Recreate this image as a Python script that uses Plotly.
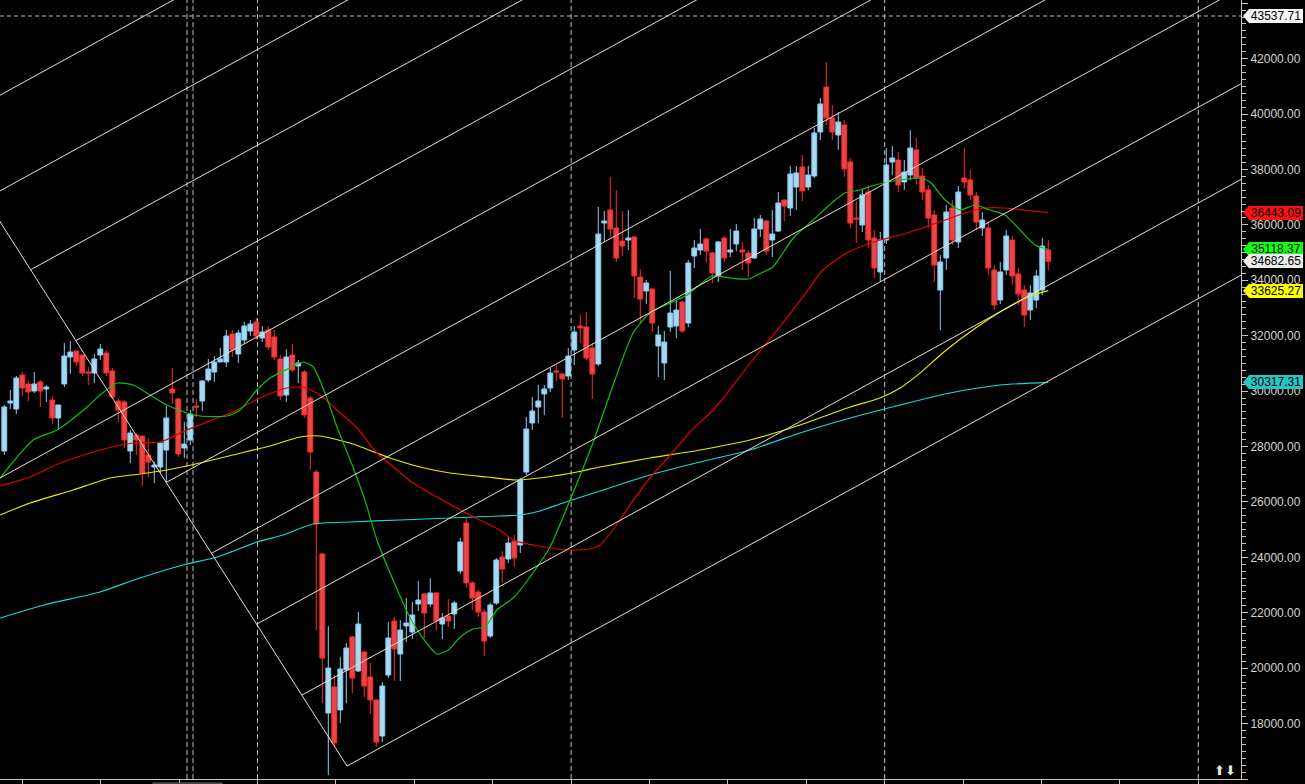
import plotly.graph_objects as go

# ---------------- data (weekly candles) ----------------
bars = list(range(175))
opens = [27838, 29571, 29354, 30581, 30257, 30004, 30329, 30076, 29679, 29029,
         30257, 31231, 31447, 31303, 30690, 30654, 31303, 31375, 30726, 29643,
         29607, 27838, 28416, 28380, 27694, 27261, 27261, 27874, 30076, 29715,
         27946, 28235, 29462, 29643, 30401, 30690, 31050, 31050, 32061, 31339,
         31844, 32169, 32494, 31917, 32205, 31954, 31159, 29859, 31303, 30906,
         30690, 29751, 27080, 24121, 18383, 19322, 18492, 19935, 21126, 19899,
         20584, 19682, 18852, 17553, 19754, 21703, 20512, 21523, 21306, 22317,
         22678, 22317, 22714, 21595, 21884, 21956, 23508, 25240, 23075, 22750,
         22028, 21162, 22353, 24013, 23941, 24590, 24446, 27080, 28849, 29426,
         29896, 30112, 30726, 30617, 30545, 31484, 32350, 32314, 31556, 30978,
         36067, 36536, 35887, 35417, 35453, 35562, 34118, 33613, 33685, 31628,
         31014, 32314, 32350, 33216, 32458, 34876, 35092, 35490, 34984, 34154,
         35526, 35020, 35309, 35092, 34984, 34804, 35851, 36139, 35453, 35778,
         36897, 36608, 37366, 38088, 37366, 37763, 39351, 40975, 39856, 39243,
         39604, 38269, 36248, 35995, 37186, 35526, 34299, 35453, 38269, 38341,
         37547, 37799, 38702, 37763, 37258, 36356, 33649, 34804, 36608, 35381,
         37691, 37619, 37041, 35887, 35887, 34371, 33288, 34371, 35453, 34226,
         33649, 32927, 33288, 33649, 35092]
highs = [29499, 30040, 30545, 30690, 30401, 30690, 30401, 30220, 29823, 29499,
         31736, 31808, 31447, 31303, 30870, 31339, 31700, 31484, 30834, 29751,
         29679, 28596, 28488, 28380, 28307, 27441, 28127, 29462, 30834, 29751,
         28885, 29318, 29715, 30401, 31159, 31267, 31556, 32205, 32205, 32205,
         32494, 32566, 32638, 32350, 32350, 32205, 31303, 31519, 31700, 31123,
         30762, 29823, 27153, 24157, 21523, 19754, 20404, 20909, 21162, 22028,
         20620, 20187, 18889, 19502, 21667, 21848, 21739, 22533, 22389, 23147,
         22714, 23255, 22750, 21992, 22497, 22425, 24699, 25421, 23147, 22822,
         22137, 22353, 23977, 24230, 24735, 24807, 26864, 29065, 29787, 30220,
         30220, 30834, 30942, 30654, 31556, 32350, 32747, 32855, 31736, 36644,
         36500, 37727, 37258, 36500, 36536, 35598, 34407, 34010, 33721, 32350,
         32169, 34335, 33288, 33252, 34732, 35453, 35851, 35562, 35020, 35417,
         35598, 35851, 36031, 35381, 35092, 36248, 36356, 36175, 36536, 37186,
         36933, 38124, 38124, 38521, 38124, 39495, 40578, 41877, 40326, 40073,
         39784, 38413, 36861, 37258, 37438, 35815, 35742, 38774, 38846, 38630,
         38341, 39423, 39135, 38052, 37438, 36536, 34912, 36717, 36897, 37402,
         38774, 37980, 37186, 36464, 36103, 34551, 34659, 35815, 35598, 34443,
         33829, 33829, 34371, 35526, 35453]
lows = [27694, 29354, 29174, 29823, 29643, 29932, 29426, 29607, 28813, 28596,
        30148, 30617, 30906, 30545, 30220, 30293, 31123, 30545, 29715, 28885,
        27946, 27405, 27694, 26575, 26900, 26683, 27044, 26683, 29535, 27622,
        27586, 28055, 29065, 29282, 30329, 30329, 31050, 30870, 31231, 31014,
        31700, 31989, 31844, 31772, 31484, 31123, 29679, 29607, 30690, 30293,
        29029, 27153, 21378, 18744, 16145, 17193, 18023, 18744, 19105, 19863,
        18961, 18347, 17157, 17337, 19646, 19538, 19538, 20945, 21054, 22064,
        21090, 22209, 21378, 21054, 21487, 21415, 23400, 22895, 22100, 21848,
        20440, 21090, 22281, 23075, 23797, 23652, 24157, 26972, 28596, 28849,
        29138, 29968, 30365, 29029, 30401, 30942, 31736, 31123, 29715, 30906,
        35381, 35562, 34659, 34876, 35092, 33360, 32458, 33144, 32133, 30509,
        30401, 32133, 31917, 32097, 32314, 34443, 34912, 34659, 33902, 33938,
        34659, 34840, 35056, 34371, 34118, 34768, 35562, 34912, 34840, 35742,
        36139, 36320, 36536, 36861, 37258, 37691, 39062, 39604, 39062, 38702,
        37727, 35887, 35345, 35742, 35165, 34082, 33938, 35309, 37799, 37186,
        37258, 37619, 37438, 36897, 35887, 33938, 32205, 34371, 35273, 35165,
        37330, 36897, 35815, 35598, 34190, 32927, 33144, 34190, 33829, 33108,
        32314, 32566, 33000, 33469, 34371]
closes = [29426, 29643, 30473, 30112, 29968, 30257, 30004, 30148, 29029, 29499,
          31267, 31411, 31050, 30654, 30654, 31159, 31519, 30654, 29787, 29318,
          28235, 28488, 28235, 27044, 27441, 27333, 28127, 29029, 29932, 27730,
          28091, 29174, 29426, 30365, 30798, 31050, 31159, 31989, 31484, 32097,
          32350, 32422, 31989, 32133, 31589, 31231, 29823, 31231, 30762, 31014,
          29138, 27802, 25204, 20368, 20007, 17301, 19971, 20729, 19646, 21595,
          19358, 18852, 17337, 19358, 21090, 20693, 21378, 21631, 21920, 22461,
          21992, 22714, 21703, 21812, 21703, 22353, 24554, 23075, 22533, 22028,
          20981, 22281, 23905, 23580, 24518, 23977, 26792, 28632, 29282, 29643,
          30076, 30654, 30690, 30437, 31267, 32133, 32277, 31195, 30617, 35670,
          36139, 35851, 34804, 35237, 35526, 34154, 33324, 33902, 32458, 32025,
          31772, 32819, 32927, 32169, 34623, 35165, 35309, 35056, 34263, 35381,
          34804, 35092, 35778, 35020, 34623, 35851, 36212, 35056, 35670, 36789,
          36680, 37836, 37872, 37222, 37799, 39315, 40362, 39856, 39351, 39712,
          38016, 36067, 36212, 37078, 35453, 34443, 35453, 38160, 38413, 37438,
          37908, 38774, 37691, 37186, 36248, 34551, 34659, 36464, 35453, 37186,
          37547, 37078, 36103, 36175, 34443, 33108, 34299, 35598, 34154, 33505,
          32747, 33541, 34154, 35237, 34682.65]

# moving averages (bar position, value)
green_x = [-0.7, 4.8, 8.8, 13.8, 15.95, 18.8, 21.5, 24.3, 27.1, 30.45, 32.6, 37.1, 39.3,
           42.1, 44.3, 47.6, 49.8, 51.5, 53.45, 55.45, 58.1, 60.1, 62.1, 64.8, 68.1, 72.1,
           74.0, 76.0, 78.1, 80.1, 82.1, 84.8, 88.1, 91.0, 94.3, 98.1, 100.6, 104.8, 107.6,
           111.0, 113.8, 117.95, 120.95, 124.0, 126.5, 128.1, 131.5, 134.8, 138.1, 140.1,
           142.6, 145.1, 149.3, 152.6, 154.3, 156.8, 159.3, 161.8, 164.3, 166.8, 169.3,
           171.8, 174]
green_y = [26864, 28235, 28596, 29426, 29859, 30293, 30220, 29859, 29499, 29210, 29101,
           29101, 29318, 30040, 30473, 30834, 31050, 30870, 29932, 28704, 27261, 26070,
           24626, 23183, 21631, 20512, 20657, 21126, 21415, 21487, 22100, 22533, 23436,
           24392, 26070, 28127, 29679, 32097, 32819, 33180, 33469, 34154, 34082, 34046,
           34299, 34479, 35526, 36175, 36825, 37150, 37258, 37438, 37619, 37691, 37547,
           36897, 36536, 36717, 36536, 36356, 35815, 35273, 35118.37]
red_x = [-0.7, 4.3, 9.3, 16.0, 21.5, 26.0, 30.45, 33.8, 38.1, 42.6, 47.1, 49.8, 52.6,
         55.45, 58.8, 62.1, 65.45, 68.1, 72.1, 77.6, 82.6, 84.8, 91.0, 94.3, 97.6, 99.3,
         101.8, 104.3, 107.6, 111.0, 114.3, 117.6, 119.6, 123.8, 128.8, 133.1, 136.45,
         139.8, 142.6, 145.95, 149.3, 153.5, 156.8, 160.1, 163.5, 166.8, 170.1, 174]
red_y = [26575, 26900, 27405, 27874, 28127, 28163, 28596, 28885, 29246, 29751, 30112,
         30148, 29859, 29318, 28668, 27766, 27153, 26683, 26178, 25529, 24987, 24626,
         24338, 24266, 24302, 24446, 25096, 25890, 26864, 27694, 28524, 29210, 29679,
         30870, 32205, 33396, 34371, 34912, 35201, 35453, 35634, 35923, 36175, 36428,
         36608, 36608, 36536, 36443.09]
yellow_x = [-0.7, 4.3, 11.45, 17.6, 22.6, 27.1, 32.6, 38.1, 44.3, 49.3, 52.6, 57.6, 64.3,
            69.3, 74.3, 80.45, 85.45, 90.45, 95.45, 99.3, 107.6, 115.95, 124.3, 132.6,
            141.0, 145.95, 149.3, 152.6, 156.8, 160.95, 165.95, 170.95, 174]
yellow_y = [25529, 25962, 26431, 26864, 27008, 27153, 27405, 27694, 28019, 28343, 28380,
            28127, 27586, 27261, 27044, 26900, 26792, 26900, 27080, 27261, 27586, 27874,
            28235, 28777, 29427, 29751, 30112, 30650, 31448, 32133, 32855, 33433, 33625.27]
cyan_x = [-0.7, 6.6, 15.95, 22.1, 29.8, 35.5, 42.1, 46.45, 51.45, 57.6, 65.95, 74.3, 82.6,
          86.0, 89.3, 93.1, 99.3, 107.6, 115.95, 124.3, 132.6, 141.0, 149.3, 157.6, 165.95, 174]
cyan_y = [21812, 22281, 22750, 23219, 23724, 24013, 24554, 24807, 25204, 25276, 25348,
          25421, 25493, 25529, 25673, 25962, 26395, 26972, 27441, 27874, 28488, 29029,
          29499, 29932, 30220, 30317.31]

# price tags on the right scale
tag_values = [43537.71, 36443.09, 35118.37, 34682.65, 33625.27, 30317.31]
tag_colors = ['#f4f4f4', '#ff1010', '#10ff10', '#ececec', '#ffff00', '#26c6c6']
alert_level = 43537.71

# equidistant channel drawing (anchors in bar / price units)
chan_bar = [57.12, 174.0]
chan_price = [16470, 30365]
chan_step = 3454
chan_edge_bar = -0.717
chan_edge_price = 36114
chan_levels = [0, 1, 2, 3, 4, 5, 6, 7, 8, 9]
chan_full_levels = [5]

# time scale
x_view = [-0.717, 206.12]
y_view = [16001, 44115]
time_ticks = [3.0, 16.07, 29.13, 42.2, 55.27, 68.33, 81.4, 94.47, 107.53, 120.6,
              133.67, 146.73, 159.8, 172.87, 185.93, 199.0]
separator_bars = [30.45, 31.45, 42.2, 94.47, 146.73, 199.0]

AXIS = '#c8c6bc'
TXT = '#d6d4cc'
CHAN = '#e4e0d0'

fig = go.Figure()

fig.add_trace(go.Candlestick(
    x=bars, open=opens, high=highs, low=lows, close=closes,
    increasing=dict(line=dict(color='#87cefa', width=1), fillcolor='#a9d9ee'),
    decreasing=dict(line=dict(color='#ff2a2a', width=1), fillcolor='#e64646'),
    whiskerwidth=0, showlegend=False, hoverinfo='skip'))

for xs, ys, col in [(cyan_x, cyan_y, '#1fd6d6'), (yellow_x, yellow_y, '#e8e800'),
                    (red_x, red_y, '#e00000'), (green_x, green_y, '#10c010')]:
    fig.add_trace(go.Scatter(x=xs, y=ys, mode='lines',
                             line=dict(color=col, width=1.2, shape='spline', smoothing=0.6),
                             hoverinfo='skip', showlegend=False))

# channel lines
b1, b2 = chan_bar
p1, p2 = chan_price
m = (p2 - p1) / (b2 - b1)
me = (chan_edge_price - p1) / (chan_edge_bar - b1)
fig.add_trace(go.Scatter(x=[b1, chan_edge_bar - 20], y=[p1, p1 + me * (chan_edge_bar - 20 - b1)],
                         mode='lines', line=dict(color=CHAN, width=1),
                         hoverinfo='skip', showlegend=False))
for k in chan_levels:
    start = b1 + k * chan_step / (me - m) if k > 0 else b1
    if k in chan_full_levels or start < x_view[0]:
        start = x_view[0] - 1
    xs = [start, x_view[1] + 1]
    ys = [p1 + m * (x - b1) + k * chan_step for x in xs]
    fig.add_trace(go.Scatter(x=xs, y=ys, mode='lines', line=dict(color=CHAN, width=1),
                             hoverinfo='skip', showlegend=False))

shapes = []
for sb in separator_bars:
    shapes.append(dict(type='line', xref='x', yref='paper', x0=sb, x1=sb, y0=0, y1=1,
                       line=dict(color='#bdbdbd', width=1, dash='5px,3px'), layer='below'))
shapes.append(dict(type='line', xref='paper', yref='y', x0=0, x1=1, y0=alert_level, y1=alert_level,
                   line=dict(color='#bdbdbd', width=1, dash='4px,3px'), layer='below'))
shapes.append(dict(type='rect', xref='paper', yref='paper', x0=153 / 1241, x1=222 / 1241,
                   y0=-9 / 779, y1=-4 / 779, line=dict(color='#6e6e6e', width=1), fillcolor='#202020'))

annotations = []
for v, c in zip(tag_values, tag_colors):
    shapes.append(dict(type='path', xref='paper', yref='y', xsizemode='pixel', ysizemode='pixel',
                       xanchor=1, yanchor=v, path='M2,0 L8,7 L9,7 L9,-7 L8,-7 Z',
                       fillcolor=c, line=dict(color=c, width=0)))
    annotations.append(dict(x=1, xref='paper', y=v, yref='y', xanchor='left', yanchor='middle',
                            xshift=8, text=f'{v:.2f}', showarrow=False,
                            width=54, height=14, borderpad=0, align='center',
                            bgcolor=c, bordercolor=c, borderwidth=0,
                            font=dict(family='Liberation Sans, Arial', size=12, color='#000000')))
annotations.append(dict(x=1225 / 1241, y=9 / 779, xref='paper', yref='paper', text='⬆⬇',
                        showarrow=False, xanchor='center', yanchor='middle',
                        font=dict(family='DejaVu Sans', size=13, color='#e8e8e8')))

fig.update_layout(
    width=1305, height=784,
    margin=dict(l=0, r=64, t=0, b=5),
    paper_bgcolor='black', plot_bgcolor='black',
    showlegend=False, hovermode=False,
    boxgap=0.1, boxgroupgap=0.1,
    shapes=shapes, annotations=annotations,
    xaxis=dict(range=x_view, showgrid=False, zeroline=False,
               rangeslider=dict(visible=False),
               showline=True, linecolor=AXIS, linewidth=1,
               ticks='outside', ticklen=4, tickcolor=AXIS,
               tickmode='array', tickvals=time_ticks, showticklabels=False),
    yaxis=dict(side='right', range=y_view, showgrid=False, zeroline=False,
               showline=True, linecolor=AXIS, linewidth=1,
               ticks='outside', ticklen=6, tickcolor=AXIS,
               tickmode='linear', tick0=0, dtick=2000, tickformat='.2f',
               tickfont=dict(family='Liberation Sans, Arial', size=12, color=TXT),
               minor=dict(dtick=250, ticklen=4, tickcolor=AXIS, ticks='outside', showgrid=False)),
)

fig.write_html('out.html',
               config={'displayModeBar': False},
               post_script="document.body.style.margin='0px';"
                           "document.body.style.background='black';"
                           "document.body.style.overflow='hidden';")
